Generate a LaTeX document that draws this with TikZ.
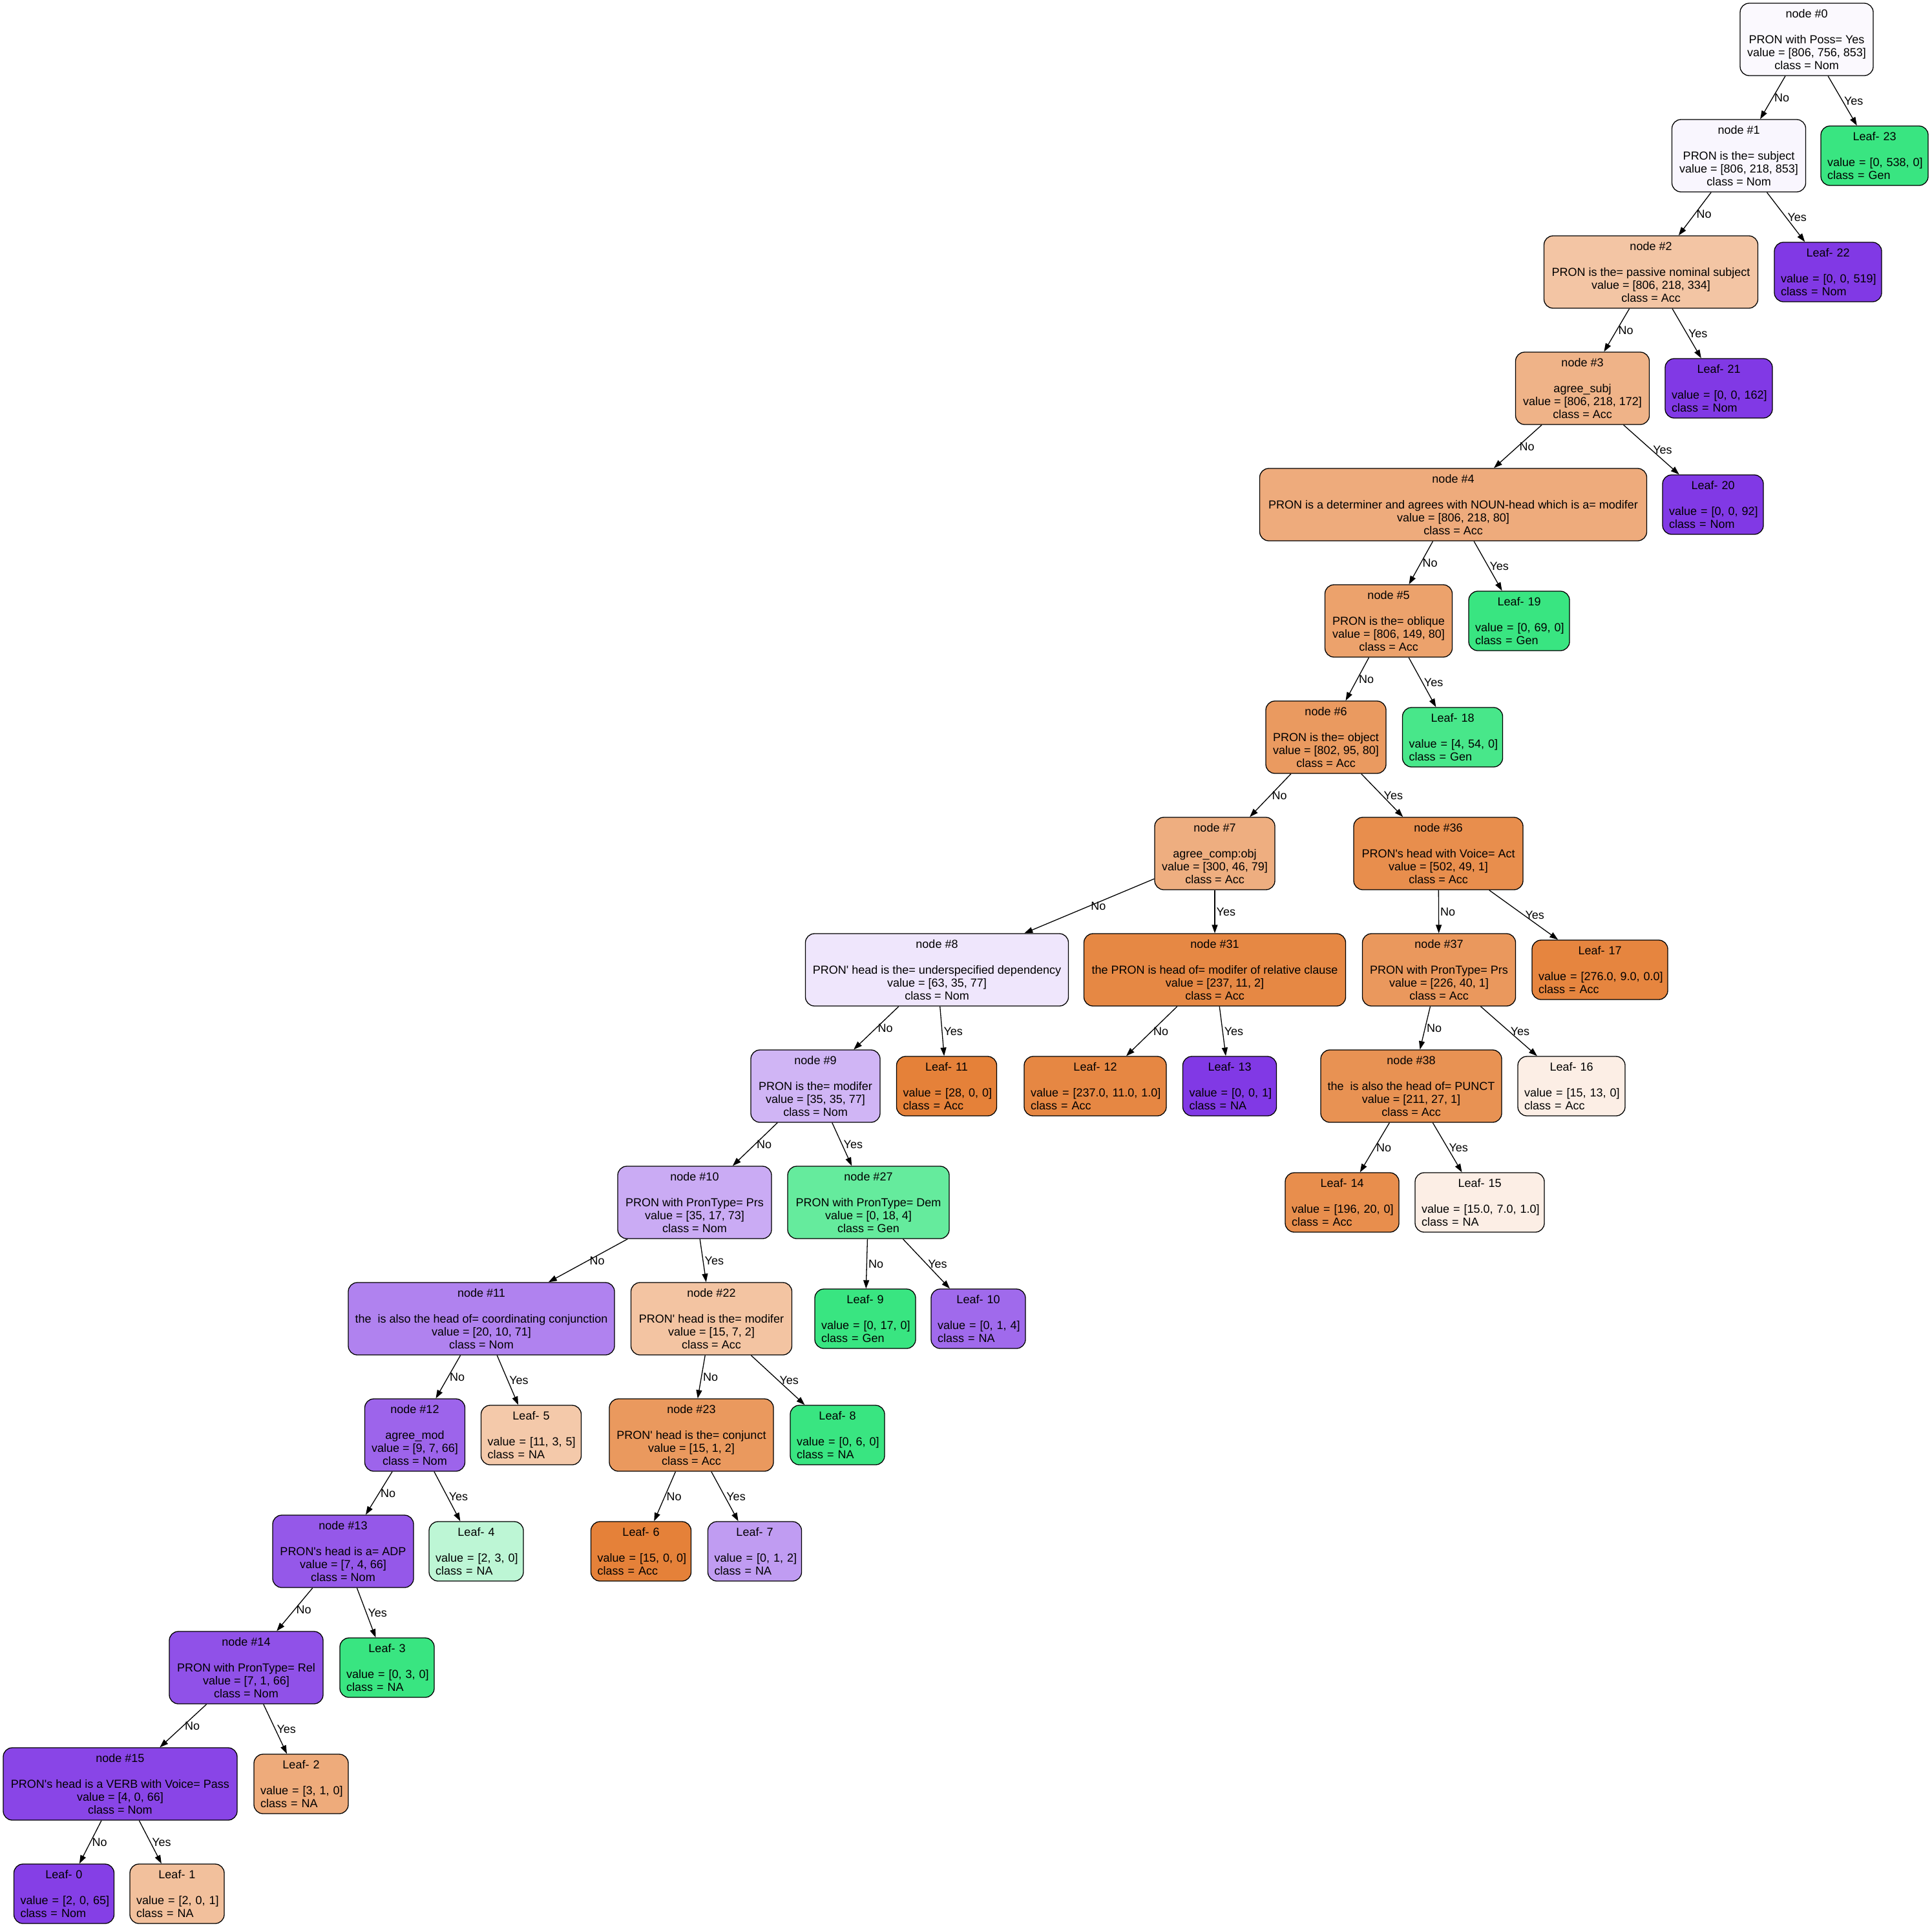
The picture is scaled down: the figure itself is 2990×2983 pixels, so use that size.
\documentclass[tikz,border=0pt]{standalone}
\usepackage{fontspec}
\usepackage{tikz}
\usetikzlibrary{arrows.meta,positioning}
\newfontfamily\gvfont{Liberation Sans}

% fill colours of the boxes
\definecolor{fn0}{HTML}{FBF9FE}
\definecolor{fn1}{HTML}{F9F6FE}
\definecolor{fn2}{HTML}{F3C5A4}
\definecolor{fn3}{HTML}{EFB388}
\definecolor{fn4}{HTML}{EEAB7C}
\definecolor{fn5}{HTML}{ECA26C}
\definecolor{fn6}{HTML}{EA9A60}
\definecolor{fn7}{HTML}{EEAE80}
\definecolor{fn36}{HTML}{E88E4D}
\definecolor{fn8}{HTML}{EFE6FC}
\definecolor{fn31}{HTML}{E68844}
\definecolor{fn37}{HTML}{EA985D}
\definecolor{fn9}{HTML}{D0B5F5}
\definecolor{fn38}{HTML}{E89253}
\definecolor{fn10}{HTML}{CAABF4}
\definecolor{fn27}{HTML}{65EB9D}
\definecolor{fn11}{HTML}{B082EF}
\definecolor{fn22}{HTML}{F3C4A2}
\definecolor{fn12}{HTML}{9D64EB}
\definecolor{fn23}{HTML}{EA995E}
\definecolor{fn13}{HTML}{9558E9}
\definecolor{fn14}{HTML}{9051E8}
\definecolor{fn15}{HTML}{8945E7}
\definecolor{accfull}{HTML}{E58139}
\definecolor{genfull}{HTML}{39E581}
\definecolor{nomfull}{HTML}{8139E5}
\definecolor{fl18}{HTML}{48E78A}
\definecolor{fl17}{HTML}{E6853F}
\definecolor{fl12}{HTML}{E68743}
\definecolor{fl16}{HTML}{FCEEE5}
\definecolor{fl14}{HTML}{E88E4D}
\definecolor{fl15}{HTML}{FCEEE5}
\definecolor{fl10}{HTML}{A06AEC}
\definecolor{fl5}{HTML}{F4C9AA}
\definecolor{fl4}{HTML}{BDF6D5}
\definecolor{fl7}{HTML}{C09CF2}
\definecolor{fl2}{HTML}{EEAB7B}
\definecolor{fl0}{HTML}{853FE6}
\definecolor{fl1}{HTML}{F2C09C}

\newcommand{\splittext}[4]{node \##1\\[20pt]#2\\value = [#3]\\class = #4}
\newcommand{\leaftext}[3]{\makebox[\linewidth]{Leaf- #1}\\[20pt]\mbox{value = [#2]}\\\mbox{class = #3}}

\begin{document}
\begin{tikzpicture}[x=1pt, y=-1pt,
  gv/.style={font=\gvfont\fontsize{18}{20}\selectfont},
  split/.style={gv, draw, line width=1.3pt, rounded corners=14pt, minimum height=112pt, inner sep=0pt, align=center},
  leaf/.style={gv, draw, line width=1.3pt, rounded corners=14pt, minimum height=92pt, inner xsep=10pt, inner ysep=0pt, align=left},
  edge/.style={line width=1.3pt, -{Triangle[length=13pt,width=9pt]}},
  elabel/.style={gv, anchor=west, inner sep=2pt}]
  \useasboundingbox (0,0) rectangle (2990,2983);

  % split nodes
  \node[split, fill=fn0, minimum width=206pt] (n0) at (2796,61) {\splittext{0}{PRON with Poss= Yes}{806, 756, 853}{Nom}};
  \node[split, fill=fn1, minimum width=207pt] (n1) at (2691,241) {\splittext{1}{PRON is the= subject}{806, 218, 853}{Nom}};
  \node[split, fill=fn2, minimum width=331pt] (n2) at (2555,421) {\splittext{2}{PRON is the= passive nominal subject}{806, 218, 334}{Acc}};
  \node[split, fill=fn3, minimum width=207pt] (n3) at (2449,601) {\splittext{3}{agree\_subj}{806, 218, 172}{Acc}};
  \node[split, fill=fn4, minimum width=599pt] (n4) at (2249,781) {\splittext{4}{PRON is a determiner and agrees with NOUN-head which is a= modifer}{806, 218, 80}{Acc}};
  \node[split, fill=fn5, minimum width=197pt] (n5) at (2149,961) {\splittext{5}{PRON is the= oblique}{806, 149, 80}{Acc}};
  \node[split, fill=fn6, minimum width=186pt] (n6) at (2052,1141) {\splittext{6}{PRON is the= object}{802, 95, 80}{Acc}};
  \node[split, fill=fn7, minimum width=186pt] (n7) at (1880,1321) {\splittext{7}{agree\_comp:obj}{300, 46, 79}{Acc}};
  \node[split, fill=fn36, minimum width=262pt] (n36) at (2226,1321) {\splittext{36}{PRON's head with Voice= Act}{502, 49, 1}{Acc}};
  \node[split, fill=fn8, minimum width=407pt] (n8) at (1450,1501) {\splittext{8}{PRON' head is the= underspecified dependency}{63, 35, 77}{Nom}};
  \node[split, fill=fn31, minimum width=405pt] (n31) at (1880,1501) {\splittext{31}{the PRON is head of= modifer of relative clause}{237, 11, 2}{Acc}};
  \node[split, fill=fn37, minimum width=237pt] (n37) at (2227,1501) {\splittext{37}{PRON with PronType= Prs}{226, 40, 1}{Acc}};
  \node[split, fill=fn9, minimum width=200pt] (n9) at (1262,1681) {\splittext{9}{PRON is the= modifer}{35, 35, 77}{Nom}};
  \node[split, fill=fn38, minimum width=280pt] (n38) at (2184,1681) {\splittext{38}{the\ \ is also the head of= PUNCT}{211, 27, 1}{Acc}};
  \node[split, fill=fn10, minimum width=238pt] (n10) at (1075,1861) {\splittext{10}{PRON with PronType= Prs}{35, 17, 73}{Nom}};
  \node[split, fill=fn27, minimum width=250pt] (n27) at (1344,1861) {\splittext{27}{PRON with PronType= Dem}{0, 18, 4}{Gen}};
  \node[split, fill=fn11, minimum width=412pt] (n11) at (745,2041) {\splittext{11}{the\ \ is also the head of= coordinating conjunction}{20, 10, 71}{Nom}};
  \node[split, fill=fn22, minimum width=249pt] (n22) at (1101,2041) {\splittext{22}{PRON' head is the= modifer}{15, 7, 2}{Acc}};
  \node[split, fill=fn12, minimum width=155pt] (n12) at (642,2221) {\splittext{12}{agree\_mod}{9, 7, 66}{Nom}};
  \node[split, fill=fn23, minimum width=254pt] (n23) at (1070,2221) {\splittext{23}{PRON' head is the= conjunct}{15, 1, 2}{Acc}};
  \node[split, fill=fn13, minimum width=218pt] (n13) at (531,2401) {\splittext{13}{PRON's head is a= ADP}{7, 4, 66}{Nom}};
  \node[split, fill=fn14, minimum width=238pt] (n14) at (381,2581) {\splittext{14}{PRON with PronType= Rel}{7, 1, 66}{Nom}};
  \node[split, fill=fn15, minimum width=362pt] (n15) at (186,2761) {\splittext{15}{PRON's head is a VERB with Voice= Pass}{4, 0, 66}{Nom}};

  % leaves
  \node[leaf, fill=genfull, text width=146pt] (l23) at (2901,241) {\leaftext{23}{0, 538, 0}{Gen}};
  \node[leaf, fill=nomfull, text width=146pt] (l22) at (2829,421) {\leaftext{22}{0, 0, 519}{Nom}};
  \node[leaf, fill=nomfull, text width=146pt] (l21) at (2660,601) {\leaftext{21}{0, 0, 162}{Nom}};
  \node[leaf, fill=nomfull, text width=136pt] (l20) at (2651,781) {\leaftext{20}{0, 0, 92}{Nom}};
  \node[leaf, fill=genfull, text width=136pt] (l19) at (2351,961) {\leaftext{19}{0, 69, 0}{Gen}};
  \node[leaf, fill=fl18, text width=135pt] (l18) at (2248,1141) {\leaftext{18}{4, 54, 0}{Gen}};
  \node[leaf, fill=fl17, text width=190pt] (l17) at (2476,1501) {\leaftext{17}{276.0, 9.0, 0.0}{Acc}};
  \node[leaf, fill=accfull, text width=135pt] (l11) at (1465,1681) {\leaftext{11}{28, 0, 0}{Acc}};
  \node[leaf, fill=fl12, text width=200pt] (l12) at (1695,1681) {\leaftext{12}{237.0, 11.0, 1.0}{Acc}};
  \node[leaf, fill=nomfull, text width=125pt] (l13) at (1903,1681) {\leaftext{13}{0, 0, 1}{NA}};
  \node[leaf, fill=fl16, text width=146pt] (l16) at (2432,1681) {\leaftext{16}{15, 13, 0}{Acc}};
  \node[leaf, fill=fl14, text width=156pt] (l14) at (2077,1861) {\leaftext{14}{196, 20, 0}{Acc}};
  \node[leaf, fill=fl15, text width=180pt] (l15) at (2290,1861) {\leaftext{15}{15.0, 7.0, 1.0}{NA}};
  \node[leaf, fill=genfull, text width=136pt] (l9) at (1339,2041) {\leaftext{9}{0, 17, 0}{Gen}};
  \node[leaf, fill=fl10, text width=126pt] (l10) at (1514,2041) {\leaftext{10}{0, 1, 4}{NA}};
  \node[leaf, fill=fl5, text width=135pt] (l5) at (822,2221) {\leaftext{5}{11, 3, 5}{NA}};
  \node[leaf, fill=genfull, text width=126pt] (l8) at (1296,2221) {\leaftext{8}{0, 6, 0}{NA}};
  \node[leaf, fill=fl4, text width=126pt] (l4) at (737,2401) {\leaftext{4}{2, 3, 0}{NA}};
  \node[leaf, fill=accfull, text width=135pt] (l6) at (992,2401) {\leaftext{6}{15, 0, 0}{Acc}};
  \node[leaf, fill=fl7, text width=125pt] (l7) at (1168,2401) {\leaftext{7}{0, 1, 2}{NA}};
  \node[leaf, fill=genfull, text width=126pt] (l3) at (599,2581) {\leaftext{3}{0, 3, 0}{NA}};
  \node[leaf, fill=fl2, text width=126pt] (l2) at (466,2761) {\leaftext{2}{3, 1, 0}{NA}};
  \node[leaf, fill=fl0, text width=135pt] (l0) at (99,2931) {\leaftext{0}{2, 0, 65}{Nom}};
  \node[leaf, fill=fl1, text width=126pt] (l1) at (274,2931) {\leaftext{1}{2, 0, 1}{NA}};

  % edges, parent/child/answer
  \foreach \a/\b/\ans in {n0/n1/No, n0/l23/Yes, n1/n2/No, n1/l22/Yes, n2/n3/No, n2/l21/Yes,
      n3/n4/No, n3/l20/Yes, n4/n5/No, n4/l19/Yes, n5/n6/No, n5/l18/Yes, n6/n7/No, n6/n36/Yes,
      n7/n8/No, n7/n31/Yes, n36/n37/No, n36/l17/Yes, n8/n9/No, n8/l11/Yes, n31/l12/No, n31/l13/Yes,
      n37/n38/No, n37/l16/Yes, n9/n10/No, n9/n27/Yes, n38/l14/No, n38/l15/Yes, n10/n11/No, n10/n22/Yes,
      n27/l9/No, n27/l10/Yes, n11/n12/No, n11/l5/Yes, n22/n23/No, n22/l8/Yes, n12/n13/No, n12/l4/Yes,
      n23/l6/No, n23/l7/Yes, n13/n14/No, n13/l3/Yes, n14/n15/No, n14/l2/Yes, n15/l0/No, n15/l1/Yes}
    \draw[edge] (\a) -- node[elabel] {\ans} (\b);
\end{tikzpicture}
\end{document}
